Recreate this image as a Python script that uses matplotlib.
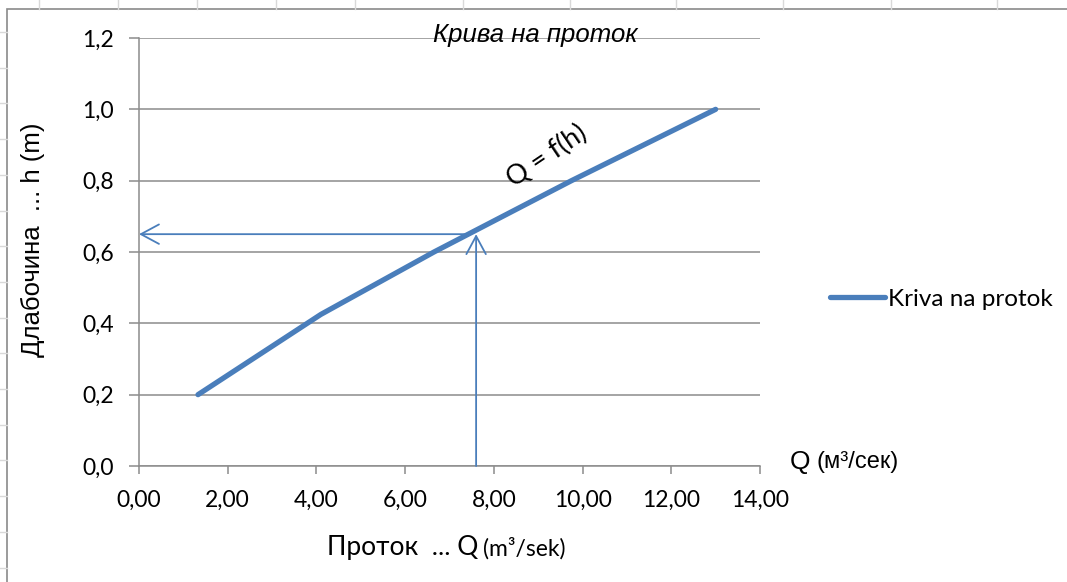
import numpy as np
import matplotlib
matplotlib.use("Agg")
import matplotlib.pyplot as plt
from matplotlib.patches import Rectangle

W, H = 1067, 582

# rating curve: discharge Q (m3/s) against depth h (m)
Q = [1.33, 4.10, 6.65, 9.75, 13.00]
h = [0.20, 0.425, 0.60, 0.80, 1.00]

# reading off a depth for a given discharge
Q_READ = 7.6
H_READ = 0.65
Q_ON_CURVE = 7.35

X_TICKS = np.arange(0, 15, 2)
Y_TICKS = np.arange(0, 1.21, 0.2)
X_TICKLABELS = [f"{v:.2f}".replace(".", ",") for v in X_TICKS]
Y_TICKLABELS = [f"{v:.1f}".replace(".", ",") for v in Y_TICKS]

BLUE = "#4a7ebb"
GRID = "#8c8c8c"
SHEET = "#d9d9d9"
SANS = ["Lato", "Noto Sans", "DejaVu Sans"]
ARIAL = ["Liberation Sans", "DejaVu Sans"]

fig = plt.figure(figsize=(W / 100, H / 100), dpi=100)


def fx(px):
    return px / W


def fy(py):
    return 1 - py / H


def text_after(first, gap_px, s, **kw):
    """Place a second text piece right after an already drawn one."""
    fig.canvas.draw()
    bb = first.get_window_extent()
    x, y = first.get_position()
    return fig.text((bb.x1 + gap_px) / W, y, s, ha="left", va="center", **kw)


# worksheet cells around the chart object
bg = fig.add_axes([0, 0, 1, 1], zorder=0)
bg.set_xlim(0, W)
bg.set_ylim(H, 0)
bg.axis("off")
for cx in [39, 118, 197, 276, 355, 463, 570, 676, 783, 891, 997]:
    bg.plot([cx, cx], [0, 9], color=SHEET, lw=1)
for ry in np.arange(32, H, 35.7):
    bg.plot([0, 7], [ry, ry], color=SHEET, lw=1)
bg.add_patch(Rectangle((7, 9), W, H, facecolor="white", edgecolor="#8a8a8a", lw=1.2))

ax = fig.add_axes([fx(139), fy(466), 621 / W, 428 / H], zorder=1)
ax.set_facecolor("none")
ax.plot(Q, h, color=BLUE, lw=3.8, solid_capstyle="round", zorder=3,
        label="Kriva na protok")

arrow = dict(arrowstyle="->,head_length=1.3,head_width=0.7", color=BLUE, lw=1.3,
             shrinkA=0, shrinkB=0, mutation_scale=10)
ax.annotate("", xy=(0, H_READ), xytext=(Q_ON_CURVE, H_READ), arrowprops=arrow)
ax.annotate("", xy=(Q_READ, H_READ), xytext=(Q_READ, 0), arrowprops=arrow)

ax.set_xlim(0, 14)
ax.set_ylim(0, 1.2)
ax.set_xticks(X_TICKS)
ax.set_xticklabels(X_TICKLABELS, family=SANS, fontsize=16.5)
ax.set_yticks(Y_TICKS)
ax.set_yticklabels(Y_TICKLABELS, family=SANS, fontsize=16.5)
ax.grid(axis="y", color=GRID, lw=1.1)
ax.set_axisbelow(True)
for side in ("top", "right"):
    ax.spines[side].set_visible(False)
for side in ("left", "bottom"):
    ax.spines[side].set_color(GRID)
    ax.spines[side].set_linewidth(1.1)
ax.tick_params(axis="y", length=7, width=1.1, color=GRID, pad=11)
ax.tick_params(axis="x", length=6, width=1.1, color=GRID, pad=11)

ax.text(9.2, 0.87, "Q = f(h)", rotation=34, ha="center", va="center",
        family=SANS, fontsize=19.5)

ax.legend(frameon=False, loc="center left", bbox_to_anchor=(1.113, 0.39),
          handlelength=2.25, handletextpad=0.12, borderpad=0, borderaxespad=0,
          prop=dict(family=SANS, size=17.5))

fig.text(fx(535), fy(35), "Крива на проток", ha="center", va="center",
         family=ARIAL, style="italic", fontsize=18.5, zorder=5)
fig.text(fx(33), fy(240), "Длабочина  ... h (m)", rotation=90, ha="center",
         va="center", family=ARIAL, fontsize=18.5)

xl = fig.text(fx(327), fy(548), "Проток  ... Q", ha="left", va="center",
              family=SANS, fontsize=19)
text_after(xl, 5, "(m³/sek)", family=SANS, fontsize=16.5)
ql = fig.text(fx(790), fy(462), "Q", ha="left", va="center", family=ARIAL,
              fontsize=19)
text_after(ql, 6, "(м³/сек)", family=ARIAL, fontsize=17)

fig.savefig("out.png", dpi=100)
